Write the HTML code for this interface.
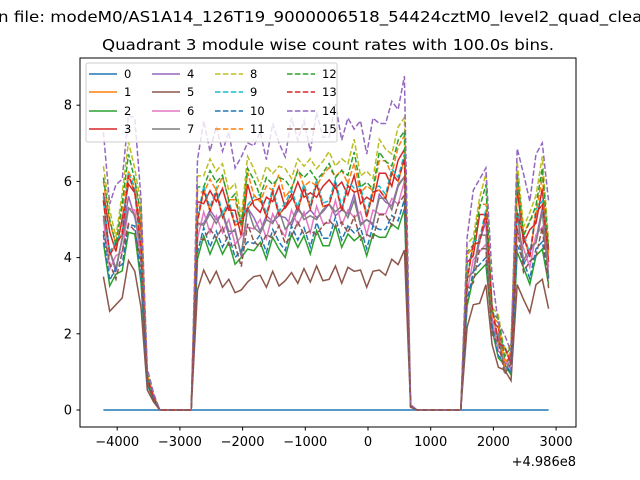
<!DOCTYPE html>
<html><head><meta charset="utf-8"><style>
html,body{margin:0;padding:0;background:#fff;width:640px;height:480px;overflow:hidden}
svg{display:block;font-family:"DejaVu Sans","Liberation Sans",sans-serif}
</style></head><body>
<svg id="chart" width="640" height="480" viewBox="0 0 640 480">
<text x="-2" y="22" font-size="15" textLength="687" lengthAdjust="spacingAndGlyphs">n file: modeM0/AS1A14_126T19_9000006518_54424cztM0_level2_quad_clean.evt</text>
<text x="328" y="50" font-size="15" text-anchor="middle" textLength="452" lengthAdjust="spacingAndGlyphs">Quadrant 3 module wise count rates with 100.0s bins.</text>
<g id="plot"></g>
<rect x="80" y="58" width="496" height="369" fill="none" stroke="#000" stroke-width="1"/>
<g id="axes"></g>
<g id="legend"></g>
<text x="576" y="466" font-size="13" text-anchor="end">+4.986e8</text>
</svg>
<script>
const t0 = -4220, step = 100;
const xTicks = [-4000,-3000,-2000,-1000,0,1000,2000,3000];
const xTickLabels = ["\u22124000","\u22123000","\u22122000","\u22121000","0","1000","2000","3000"];
const yTicks = [0,2,4,6,8];
const yTickLabels = ["0","2","4","6","8"];
const seriesNames = ["0","1","2","3","4","5","6","7","8","9","10","11","12","13","14","15"];
// typical count rate level of each module in the middle segment
const levels = [0,5.5,4.4,5.7,5.1,3.5,5.0,5.1,6.4,5.6,4.6,6.0,6.1,5.5,7.3,4.7];
// relative profile of count rate over time (72 bins)
const profile = [1.0,0.78,0.76,0.86,1.08,1.02,0.8,0.15,0.06,0,0,0,0,0,0,
0.93,1.0,0.98,1.0,0.97,0.95,0.9,0.85,1.0,0.97,0.96,0.95,1.0,0.98,0.95,1.0,1.0,1.02,0.98,1.03,1.0,1.02,1.05,1.0,1.03,1.06,1.0,0.95,1.0,1.07,1.05,1.08,1.12,1.2,
0.02,0,0,0,0,0,0,0,0,
0.65,0.75,0.85,0.92,0.45,0.35,0.25,0.24,0.98,0.8,0.78,0.9,1.0,0.72];
const jitterA = [0,0.04,-0.05,0.03,0.02,-0.03,0.04,0,0,0,0,0,0,0,0,0.03,-0.04,0.05,-0.02,0.04,-0.05,0.03,-0.06,0.04,0.02,-0.04,0.05,-0.03,0.02,0.04,-0.05,0.03,-0.02,0.05,-0.04,0.02,0.04,-0.05,0.03,-0.02,0.05,-0.04,0.03,-0.05,0.04,0.02,-0.03,0.04,0,0,0,0,0,0,0,0,0,0,0.03,-0.04,0.02,0.05,-0.03,0.04,-0.02,0.03,0.04,-0.05,0.03,-0.02,0.04,-0.03];
const jitterB = [0,-0.04,0.03,-0.02,0.04,0.02,-0.03,0,0,0,0,0,0,0,0,-0.03,0.05,-0.03,0.04,-0.05,0.03,-0.02,0.05,-0.04,0.03,0.05,-0.03,0.04,-0.05,0.02,0.03,-0.05,0.04,-0.02,0.05,-0.03,-0.04,0.03,-0.05,0.04,-0.02,0.05,-0.03,0.04,-0.02,-0.04,0.05,-0.03,0,0,0,0,0,0,0,0,0,0,-0.03,0.04,-0.05,0.02,0.04,-0.03,0.05,-0.02,-0.04,0.03,-0.05,0.04,-0.02,0.04];
const colors = ["#1f77b4","#ff7f0e","#2ca02c","#d62728","#9467bd","#8c564b","#e377c2","#7f7f7f","#bcbd22","#17becf","#1f77b4","#ff7f0e","#2ca02c","#d62728","#9467bd","#8c564b"];
const NS="http://www.w3.org/2000/svg";
function xs(v){return 368+(v/1000)*62.7;}
function ys(v){return 410-v*38.1;}
const plot=document.getElementById('plot'), axes=document.getElementById('axes'), legend=document.getElementById('legend');
function mk(tag,attrs,parent){const e=document.createElementNS(NS,tag);for(const k in attrs)e.setAttribute(k,attrs[k]);parent.appendChild(e);return e;}
seriesNames.forEach((name,s)=>{
  const j = s%2===0 ? jitterA : jitterB;
  const sign = s%4<2 ? 1 : -1;
  let pts=[];
  for(let i=0;i<profile.length;i++){
    const v = levels[s]*(profile[i]+sign*j[i]*(profile[i]>0.1?1:0));
    pts.push(xs(t0+step*i).toFixed(1)+","+ys(v).toFixed(1));
  }
  const p=mk('polyline',{points:pts.join(' '),fill:'none',stroke:colors[s],'stroke-width':1.5,'stroke-dasharray':s>=8?'5.5,2.4':'none'},plot);
  
  
});
xTicks.forEach((v,i)=>{
  const x=xs(v);
  const l=mk('line',{x1:x,x2:x,y1:427,y2:430.5,stroke:'#000'},axes);
  
  
  const t=mk('text',{x:x,y:446,'font-size':13,'text-anchor':'middle'},axes);
  t.textContent=xTickLabels[i];
  
  
});
yTicks.forEach((v,i)=>{
  const y=ys(v);
  const l=mk('line',{x1:76.5,x2:80,y1:y,y2:y,stroke:'#000'},axes);
  
  
  const t=mk('text',{x:72,y:y+4.5,'font-size':13,'text-anchor':'end'},axes);
  t.textContent=yTickLabels[i];
  
  
});
const box=mk('rect',{x:86,y:63,width:251,height:79,rx:2,fill:'#fff','fill-opacity':0.8,stroke:'#ccc'},legend);


const colX=[89,152,215,287], rowY=[74,92,111,129];
seriesNames.forEach((name,s)=>{
  const c=Math.floor(s/4), r=s%4;
  const g=mk('g',{},legend);
  
  
  mk('line',{x1:colX[c],x2:colX[c]+28,y1:rowY[r],y2:rowY[r],stroke:colors[s],'stroke-width':1.5,'stroke-dasharray':s>=8?'5.5,2.4':'none'},g);
  const t=mk('text',{x:colX[c]+35,y:rowY[r]+4,'font-size':11.5},g);
  t.textContent=name;
});
</script>
</body></html>
